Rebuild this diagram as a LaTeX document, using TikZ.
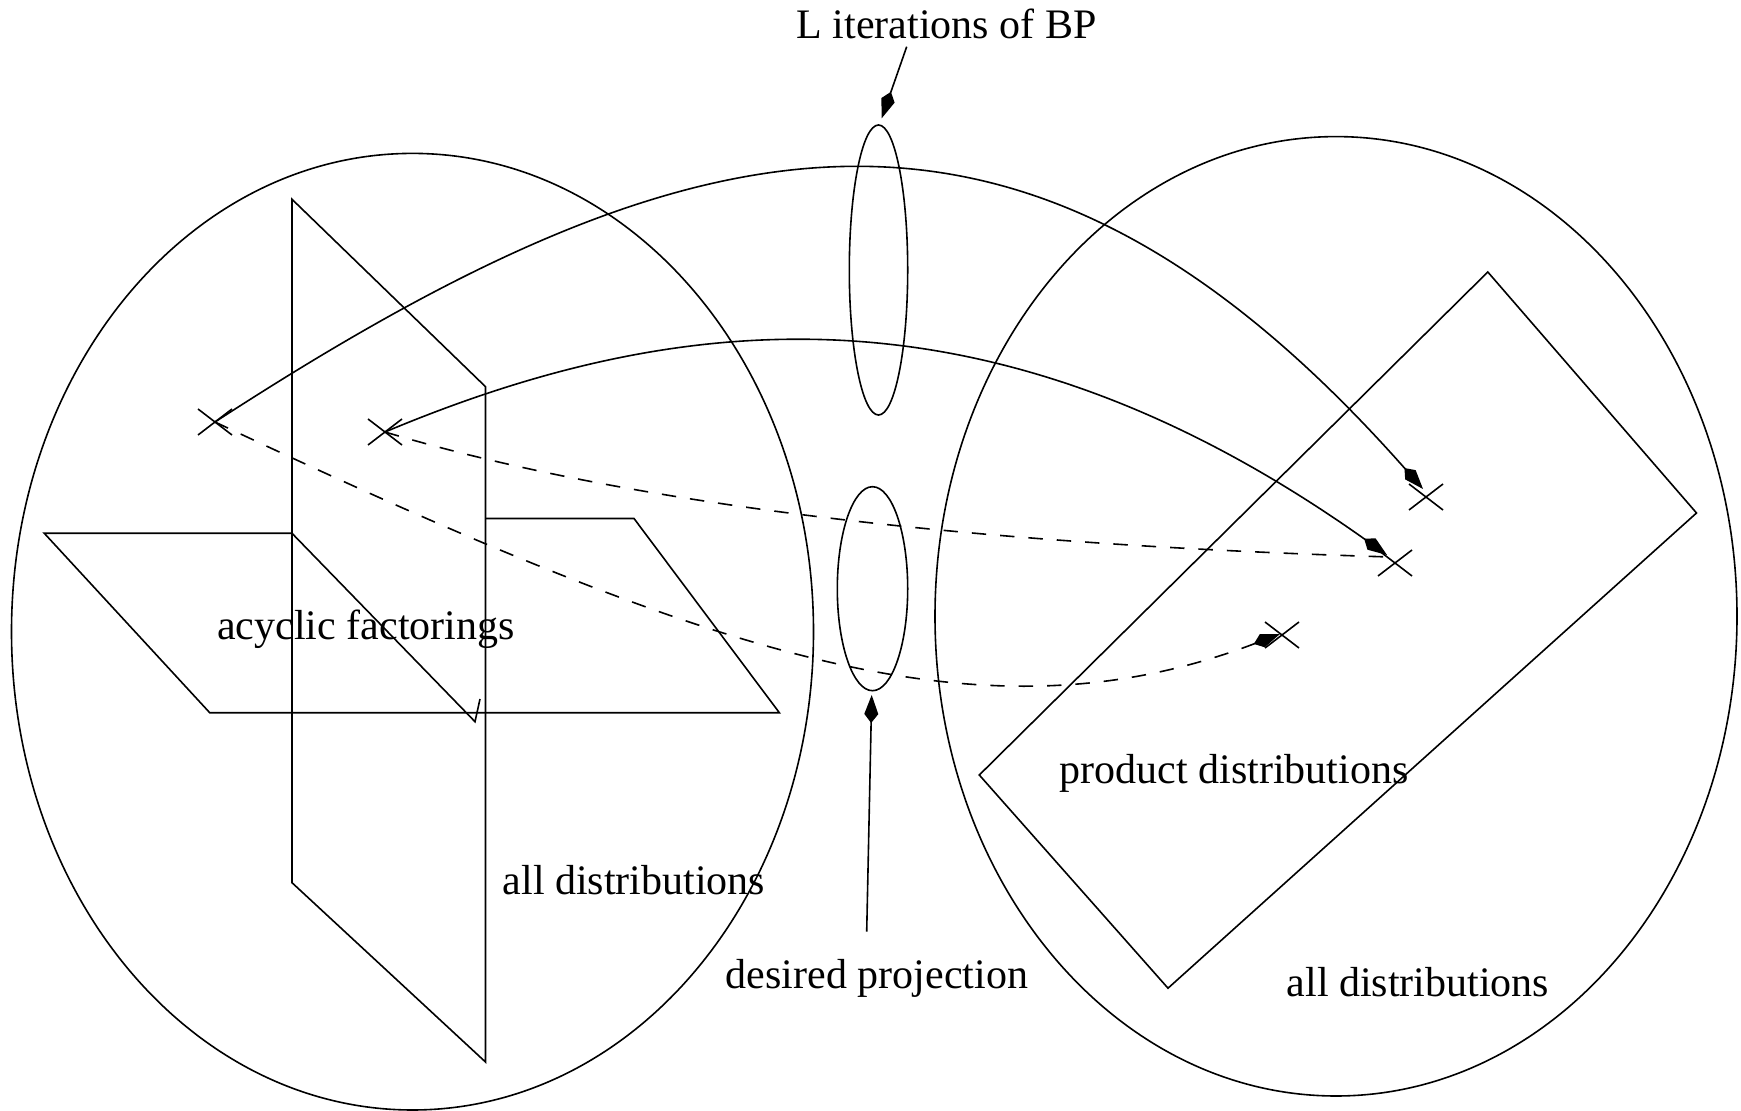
\documentclass[tikz,border=0pt]{standalone}
\usepackage{fontspec}
\setmainfont{Liberation Serif}
\usetikzlibrary{arrows.meta}
\begin{document}
\begin{tikzpicture}[x=0.5pt,y=-0.5pt, line width=0.8pt,
  lbl/.style={font=\fontsize{21}{24}\selectfont, inner sep=0pt, anchor=base},
  tip/.style={-{Kite[length=14pt,width=7pt,inset=4.5pt]}},
  dsh/.style={dash pattern=on 7.2pt off 7pt},
  crossmark/.pic={\draw (-17,-13) -- (17,13) (-17,13) -- (17,-13);}]
\useasboundingbox (0,0) rectangle (1741,1111);

% big ellipses
\draw (412.5,631.7) ellipse [x radius=401, y radius=478.3];
\draw (1336,616.3) ellipse [x radius=401, y radius=479.7];

% small ellipses
\draw (878.5,270) ellipse [x radius=29.2, y radius=145];
\draw (872.5,588.7) ellipse [x radius=35.2, y radius=102];

% vertical plane
\draw (292,199.3) -- (485.5,386.7) -- (485.5,1062) -- (292,882.7) -- cycle;
% horizontal plane
\draw (292,533.3) -- (44.3,533.3) -- (209.8,712.8) -- (779.4,712.8) -- (634,518.5) -- (485.5,518.5);
% intersection line with tick
\draw (292,533.3) -- (475,721.7) -- (480,699);

% rotated rectangle
\draw (1487.8,272) -- (1696.5,513) -- (1168,988.2) -- (979.3,775) -- cycle;

% crosses
\coordinate (A) at (215,422);
\coordinate (B) at (385,432);
\coordinate (C) at (1426,497);
\coordinate (D) at (1395,563);
\coordinate (E) at (1282,635);
\pic at (A) {crossmark};
\pic at (B) {crossmark};
\pic at (C) {crossmark};
\pic at (D) {crossmark};
\pic at (E) {crossmark};

\coordinate (Ctip) at (1423,489);
\coordinate (Dtip) at (1387,555);
\coordinate (Etip) at (1280,634);
\coordinate (Dend) at (1390,557);

% solid curves
\draw[tip] (A) .. controls (697,108.7) and (1024,38) .. (Ctip);
\draw[tip] (B) .. controls (681,307.8) and (995,276.8) .. (Dtip);
% dashed curves
\draw[dsh,tip] (A) .. controls (715,657) and (981,747.5) .. (Etip);
\draw[dsh] (B) .. controls (685,522) and (1095,548) .. (Dend);

% labels
\node[lbl] (lbp) at (946.5,39) {L iterations of BP};
\node[lbl] (acy) at (366,640) {acyclic factorings};
\node[lbl] (all1) at (634,895) {all distributions};
\node[lbl] (des) at (877,988) {desired projection};
\node[lbl] (prod) at (1234,784) {product distributions};
\node[lbl] (all2) at (1418,996) {all distributions};

% label arrows
\coordinate (lbpfoot) at (906.7,46.7);
\coordinate (uptip) at (881.7,118.3);
\draw[tip] (lbpfoot) -- (uptip);
\coordinate (desfoot) at (866.7,931.7);
\coordinate (lowtip) at (871.7,695);
\draw[tip] (desfoot) -- (lowtip);
\end{tikzpicture}
\end{document}
